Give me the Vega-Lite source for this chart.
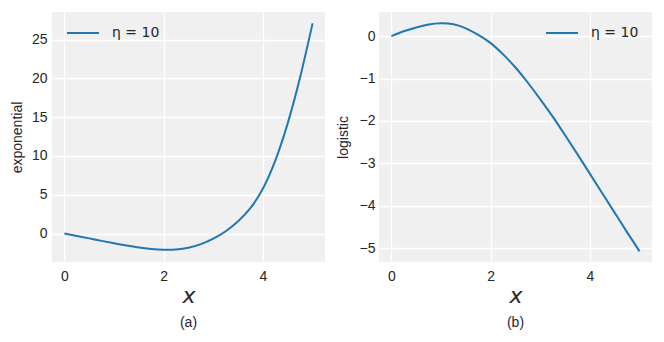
{
  "$schema": "https://vega.github.io/schema/vega-lite/v6.json",
  "background": "white",
  "padding": {"left": 10, "top": 12, "right": 5, "bottom": 5},
  "spacing": 11,
  "config": {
    "view": {"fill": "#f0f0f0", "stroke": null},
    "axis": {
      "domain": false,
      "ticks": false,
      "gridColor": "white",
      "gridWidth": 1.3,
      "labelFont": "Liberation Sans",
      "labelFontSize": 14,
      "labelColor": "#262626",
      "titleColor": "#262626",
      "titleFont": "Liberation Sans",
      "titleFontWeight": "normal"
    },
    "legend": {
      "labelFont": "DejaVu Sans",
      "labelFontSize": 14,
      "labelColor": "#262626",
      "symbolType": "stroke",
      "symbolSize": 1024,
      "symbolStrokeWidth": 2,
      "labelOffset": 12,
      "padding": 0
    },
    "title": {"font": "Liberation Sans", "fontSize": 14, "fontWeight": "normal", "color": "#262626"}
  },
  "datasets": {
    "expo": [
      {"x": 0, "y": 0, "s": "η = 10"},
      {"x": 0.25, "y": -0.31, "s": "η = 10"},
      {"x": 0.5, "y": -0.625, "s": "η = 10"},
      {"x": 0.75, "y": -0.945, "s": "η = 10"},
      {"x": 1.0, "y": -1.26, "s": "η = 10"},
      {"x": 1.25, "y": -1.55, "s": "η = 10"},
      {"x": 1.5, "y": -1.795, "s": "η = 10"},
      {"x": 1.75, "y": -1.985, "s": "η = 10"},
      {"x": 2.0, "y": -2.1, "s": "η = 10"},
      {"x": 2.25, "y": -2.05, "s": "η = 10"},
      {"x": 2.5, "y": -1.82, "s": "η = 10"},
      {"x": 2.75, "y": -1.36, "s": "η = 10"},
      {"x": 3.0, "y": -0.66, "s": "η = 10"},
      {"x": 3.25, "y": 0.3, "s": "η = 10"},
      {"x": 3.5, "y": 1.58, "s": "η = 10"},
      {"x": 3.75, "y": 3.3, "s": "η = 10"},
      {"x": 4.0, "y": 5.8, "s": "η = 10"},
      {"x": 4.25, "y": 9.43, "s": "η = 10"},
      {"x": 4.5, "y": 14.24, "s": "η = 10"},
      {"x": 4.75, "y": 20.18, "s": "η = 10"},
      {"x": 5.0, "y": 27.1, "s": "η = 10"}
    ],
    "logi": [
      {"x": 0, "y": 0, "s": "η = 10"},
      {"x": 0.25, "y": 0.115, "s": "η = 10"},
      {"x": 0.5, "y": 0.205, "s": "η = 10"},
      {"x": 0.75, "y": 0.275, "s": "η = 10"},
      {"x": 1.0, "y": 0.305, "s": "η = 10"},
      {"x": 1.25, "y": 0.28, "s": "η = 10"},
      {"x": 1.5, "y": 0.185, "s": "η = 10"},
      {"x": 1.75, "y": 0.03, "s": "η = 10"},
      {"x": 2.0, "y": -0.165, "s": "η = 10"},
      {"x": 2.25, "y": -0.43, "s": "η = 10"},
      {"x": 2.5, "y": -0.74, "s": "η = 10"},
      {"x": 2.75, "y": -1.1, "s": "η = 10"},
      {"x": 3.0, "y": -1.49, "s": "η = 10"},
      {"x": 3.25, "y": -1.9, "s": "η = 10"},
      {"x": 3.5, "y": -2.34, "s": "η = 10"},
      {"x": 3.75, "y": -2.79, "s": "η = 10"},
      {"x": 4.0, "y": -3.25, "s": "η = 10"},
      {"x": 4.25, "y": -3.71, "s": "η = 10"},
      {"x": 4.5, "y": -4.17, "s": "η = 10"},
      {"x": 4.75, "y": -4.63, "s": "η = 10"},
      {"x": 5.0, "y": -5.08, "s": "η = 10"}
    ]
  },
  "resolve": {"scale": {"color": "independent"}, "legend": {"color": "independent"}},
  "hconcat": [
    {
      "width": 273,
      "height": 250,
      "title": {"text": "(a)", "orient": "bottom", "offset": 10},
      "data": {"name": "expo"},
      "mark": {"type": "line", "strokeWidth": 2, "interpolate": "natural"},
      "encoding": {
        "x": {
          "field": "x", "type": "quantitative",
          "scale": {"domain": [-0.25, 5.25], "nice": false, "zero": false},
          "axis": {"values": [0, 2, 4], "title": "x", "titleFont": "DejaVu Sans", "titleFontStyle": "italic", "titleFontSize": 22, "titlePadding": 2, "labelPadding": 7}
        },
        "y": {
          "field": "y", "type": "quantitative",
          "scale": {"domain": [-3.67, 28.57], "nice": false, "zero": false},
          "axis": {"values": [0, 5, 10, 15, 20, 25], "title": "exponential", "titleFontSize": 14, "titlePadding": 7, "labelPadding": 5}
        },
        "color": {
          "field": "s", "type": "nominal",
          "scale": {"range": ["#1f77b4"]},
          "legend": {"title": null, "orient": "none", "legendX": 14, "legendY": 4}
        }
      }
    },
    {
      "width": 273,
      "height": 250,
      "title": {"text": "(b)", "orient": "bottom", "offset": 10},
      "data": {"name": "logi"},
      "mark": {"type": "line", "strokeWidth": 2, "interpolate": "natural"},
      "encoding": {
        "x": {
          "field": "x", "type": "quantitative",
          "scale": {"domain": [-0.25, 5.25], "nice": false, "zero": false},
          "axis": {"values": [0, 2, 4], "title": "x", "titleFont": "DejaVu Sans", "titleFontStyle": "italic", "titleFontSize": 22, "titlePadding": 2, "labelPadding": 7}
        },
        "y": {
          "field": "y", "type": "quantitative",
          "scale": {"domain": [-5.33, 0.57], "nice": false, "zero": false},
          "axis": {"values": [0, -1, -2, -3, -4, -5], "title": "logistic", "titleFontSize": 14, "titlePadding": 9, "labelPadding": 4}
        },
        "color": {
          "field": "s", "type": "nominal",
          "scale": {"range": ["#1f77b4"]},
          "legend": {"title": null, "orient": "none", "legendX": 166, "legendY": 4}
        }
      }
    }
  ]
}
